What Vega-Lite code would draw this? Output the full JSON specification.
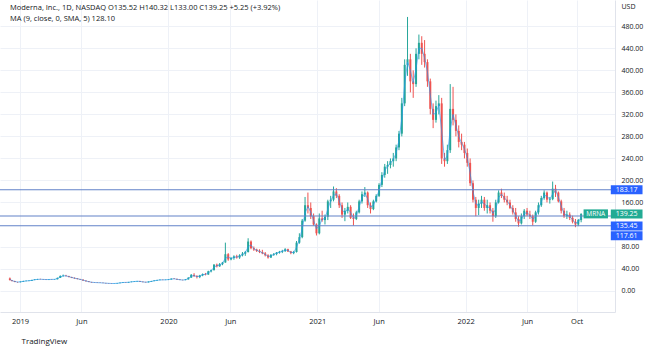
{
  "$schema": "https://vega.github.io/schema/vega-lite/v6.json",
  "width": 615,
  "height": 312,
  "padding": {"left": 0, "top": 0, "right": 41, "bottom": 40},
  "autosize": {"type": "none"},
  "background": "#ffffff",
  "config": {
    "view": {"stroke": null},
    "font": "Open Sans",
    "axis": {"labelFont": "Open Sans", "titleFont": "Open Sans", "labelOverlap": false, "labelSeparation": 0},
    "axisY": {"labelOverlap": false},
    "title": {"font": "Open Sans", "subtitleFont": "Open Sans"}
  },
  "title": {
    "text": "Moderna, Inc., 1D, NASDAQ  O135.52  H140.32  L133.00  C139.25  +5.25 (+3.92%)",
    "subtitle": "MA (9, close, 0, SMA, 5)  128.10",
    "anchor": "start",
    "frame": "group",
    "orient": "top",
    "offset": -22,
    "dx": 10,
    "fontSize": 7.5,
    "fontWeight": "normal",
    "color": "#131722",
    "subtitleFontSize": 7.5,
    "subtitleColor": "#131722",
    "subtitlePadding": 3
  },
  "datasets": {
    "px": [
      {"d":"2018-12-07","o":22,"h":23.7,"l":18.5,"c":18.8,"m":20.4},
      {"d":"2018-12-12","o":18.8,"h":19.2,"l":16.5,"c":17.4,"m":18.1},
      {"d":"2018-12-19","o":17.4,"h":17.6,"l":15.2,"c":15.6,"m":16.5},
      {"d":"2018-12-26","o":15.6,"h":15.9,"l":14.2,"c":15.3,"m":15.45},
      {"d":"2019-01-02","o":15.3,"h":16.5,"l":14.8,"c":16.2,"m":15.75},
      {"d":"2019-01-09","o":16.2,"h":17.8,"l":15.8,"c":17.2,"m":16.7},
      {"d":"2019-01-16","o":17.2,"h":18.2,"l":16.8,"c":17.6,"m":17.4},
      {"d":"2019-01-23","o":17.6,"h":18.5,"l":17.0,"c":18.0,"m":17.8},
      {"d":"2019-01-30","o":18.0,"h":19.5,"l":17.7,"c":19.2,"m":18.6},
      {"d":"2019-02-06","o":19.2,"h":20.5,"l":18.8,"c":20.0,"m":19.6},
      {"d":"2019-02-13","o":20.0,"h":21.2,"l":19.5,"c":20.6,"m":20.3},
      {"d":"2019-02-20","o":20.6,"h":21.5,"l":20.0,"c":20.4,"m":20.5},
      {"d":"2019-02-27","o":20.4,"h":21.0,"l":19.6,"c":20.1,"m":20.25},
      {"d":"2019-03-06","o":20.1,"h":20.8,"l":19.2,"c":19.8,"m":19.95},
      {"d":"2019-03-13","o":19.8,"h":20.5,"l":19.0,"c":20.3,"m":20.05},
      {"d":"2019-03-20","o":20.3,"h":21.0,"l":19.6,"c":20.2,"m":20.25},
      {"d":"2019-03-27","o":20.2,"h":21.0,"l":19.8,"c":20.5,"m":20.35},
      {"d":"2019-04-03","o":20.5,"h":23.5,"l":20.3,"c":23.0,"m":21.75},
      {"d":"2019-04-10","o":23.0,"h":27.5,"l":22.8,"c":26.5,"m":24.75},
      {"d":"2019-04-17","o":26.5,"h":29.0,"l":25.0,"c":27.0,"m":26.75},
      {"d":"2019-04-24","o":27.0,"h":28.5,"l":25.8,"c":26.2,"m":26.6},
      {"d":"2019-05-01","o":26.2,"h":26.8,"l":24.0,"c":24.5,"m":25.35},
      {"d":"2019-05-08","o":24.5,"h":25.0,"l":22.6,"c":23.0,"m":23.75},
      {"d":"2019-05-15","o":23.0,"h":23.8,"l":21.5,"c":22.0,"m":22.5},
      {"d":"2019-05-22","o":22.0,"h":22.5,"l":20.4,"c":20.8,"m":21.4},
      {"d":"2019-05-29","o":20.8,"h":21.2,"l":19.5,"c":19.8,"m":20.3},
      {"d":"2019-06-05","o":19.8,"h":20.2,"l":17.8,"c":18.0,"m":18.9},
      {"d":"2019-06-12","o":18.0,"h":18.5,"l":16.5,"c":16.8,"m":17.4},
      {"d":"2019-06-19","o":16.8,"h":17.2,"l":15.2,"c":15.5,"m":16.15},
      {"d":"2019-06-26","o":15.5,"h":15.8,"l":14.4,"c":14.7,"m":15.1},
      {"d":"2019-07-03","o":14.7,"h":15.2,"l":14.0,"c":14.5,"m":14.6},
      {"d":"2019-07-10","o":14.5,"h":15.0,"l":13.8,"c":14.2,"m":14.35},
      {"d":"2019-07-17","o":14.2,"h":14.8,"l":13.7,"c":14.0,"m":14.1},
      {"d":"2019-07-24","o":14.0,"h":14.4,"l":13.4,"c":13.6,"m":13.8},
      {"d":"2019-07-31","o":13.6,"h":14.0,"l":12.8,"c":13.2,"m":13.4},
      {"d":"2019-08-07","o":13.2,"h":13.6,"l":12.5,"c":12.9,"m":13.05},
      {"d":"2019-08-14","o":12.9,"h":13.4,"l":12.3,"c":12.7,"m":12.8},
      {"d":"2019-08-21","o":12.7,"h":13.2,"l":12.4,"c":12.9,"m":12.8},
      {"d":"2019-08-28","o":12.9,"h":13.8,"l":12.6,"c":13.5,"m":13.2},
      {"d":"2019-09-04","o":13.5,"h":14.4,"l":13.2,"c":14.2,"m":13.85},
      {"d":"2019-09-11","o":14.2,"h":15.2,"l":14.0,"c":15.0,"m":14.6},
      {"d":"2019-09-18","o":15.0,"h":15.5,"l":14.2,"c":14.6,"m":14.8},
      {"d":"2019-09-25","o":14.6,"h":15.8,"l":14.3,"c":15.5,"m":15.05},
      {"d":"2019-10-02","o":15.5,"h":16.4,"l":15.0,"c":16.0,"m":15.75},
      {"d":"2019-10-09","o":16.0,"h":17.0,"l":15.6,"c":16.6,"m":16.3},
      {"d":"2019-10-16","o":16.6,"h":17.5,"l":16.0,"c":17.2,"m":16.9},
      {"d":"2019-10-23","o":17.2,"h":17.6,"l":15.8,"c":16.0,"m":16.6},
      {"d":"2019-10-30","o":16.0,"h":16.4,"l":15.0,"c":15.4,"m":15.7},
      {"d":"2019-11-06","o":15.4,"h":16.0,"l":14.6,"c":15.0,"m":15.2},
      {"d":"2019-11-13","o":15.0,"h":16.5,"l":14.8,"c":16.2,"m":15.6},
      {"d":"2019-11-20","o":16.2,"h":17.5,"l":16.0,"c":17.2,"m":16.7},
      {"d":"2019-11-27","o":17.2,"h":18.5,"l":17.0,"c":18.2,"m":17.7},
      {"d":"2019-12-04","o":18.2,"h":19.5,"l":17.8,"c":19.0,"m":18.6},
      {"d":"2019-12-11","o":19.0,"h":20.2,"l":18.6,"c":19.5,"m":19.25},
      {"d":"2019-12-18","o":19.5,"h":20.0,"l":18.8,"c":19.2,"m":19.35},
      {"d":"2019-12-25","o":19.2,"h":19.9,"l":18.9,"c":19.6,"m":19.4},
      {"d":"2020-01-01","o":19.6,"h":20.5,"l":19.0,"c":20.2,"m":19.9},
      {"d":"2020-01-08","o":20.2,"h":22.0,"l":19.8,"c":21.5,"m":20.85},
      {"d":"2020-01-15","o":21.5,"h":22.5,"l":20.8,"c":21.0,"m":21.25},
      {"d":"2020-01-22","o":21.0,"h":21.8,"l":19.6,"c":20.0,"m":20.5},
      {"d":"2020-01-29","o":20.0,"h":20.5,"l":18.9,"c":19.2,"m":19.6},
      {"d":"2020-02-05","o":19.2,"h":19.8,"l":18.5,"c":19.0,"m":19.1},
      {"d":"2020-02-12","o":19.0,"h":20.5,"l":18.8,"c":20.2,"m":19.6},
      {"d":"2020-02-19","o":20.2,"h":24.0,"l":20.0,"c":23.5,"m":21.85},
      {"d":"2020-02-26","o":23.5,"h":30.0,"l":23.0,"c":28.5,"m":26.0},
      {"d":"2020-03-04","o":28.5,"h":31.5,"l":25.0,"c":26.0,"m":27.25},
      {"d":"2020-03-11","o":26.0,"h":28.0,"l":22.0,"c":24.5,"m":25.25},
      {"d":"2020-03-18","o":24.5,"h":28.5,"l":22.5,"c":27.5,"m":26.0},
      {"d":"2020-03-25","o":27.5,"h":31.0,"l":26.0,"c":30.0,"m":28.75},
      {"d":"2020-04-01","o":30.0,"h":32.0,"l":27.5,"c":29.0,"m":29.5},
      {"d":"2020-04-08","o":29.0,"h":36.0,"l":28.5,"c":35.0,"m":32.0},
      {"d":"2020-04-15","o":35.0,"h":38.0,"l":33.0,"c":37.0,"m":36.0},
      {"d":"2020-04-22","o":37.0,"h":48.0,"l":36.5,"c":47.0,"m":42.0},
      {"d":"2020-04-29","o":47.0,"h":49.0,"l":42.0,"c":44.0,"m":45.5},
      {"d":"2020-05-06","o":44.0,"h":50.0,"l":43.0,"c":48.0,"m":46.0},
      {"d":"2020-05-13","o":48.0,"h":52.0,"l":46.0,"c":51.0,"m":49.5},
      {"d":"2020-05-20","o":51.0,"h":87.0,"l":50.5,"c":66.0,"m":58.5},
      {"d":"2020-05-27","o":66.0,"h":68.0,"l":54.0,"c":56.5,"m":61.25},
      {"d":"2020-06-03","o":56.5,"h":61.0,"l":55.0,"c":59.0,"m":57.75},
      {"d":"2020-06-10","o":59.0,"h":64.0,"l":56.0,"c":62.0,"m":60.5},
      {"d":"2020-06-17","o":62.0,"h":65.0,"l":58.0,"c":60.0,"m":61.0},
      {"d":"2020-06-24","o":60.0,"h":66.0,"l":57.5,"c":64.0,"m":62.0},
      {"d":"2020-07-01","o":64.0,"h":70.0,"l":62.0,"c":67.0,"m":65.5},
      {"d":"2020-07-08","o":67.0,"h":72.0,"l":63.0,"c":70.0,"m":68.5},
      {"d":"2020-07-15","o":70.0,"h":95.0,"l":69.0,"c":89.0,"m":79.5},
      {"d":"2020-07-22","o":89.0,"h":91.0,"l":75.0,"c":77.0,"m":83.0},
      {"d":"2020-07-29","o":77.0,"h":80.0,"l":72.0,"c":74.5,"m":75.75},
      {"d":"2020-08-05","o":74.5,"h":76.0,"l":70.0,"c":72.0,"m":73.25},
      {"d":"2020-08-12","o":72.0,"h":75.0,"l":68.0,"c":70.0,"m":71.0},
      {"d":"2020-08-19","o":70.0,"h":74.0,"l":66.0,"c":67.5,"m":68.75},
      {"d":"2020-08-26","o":67.5,"h":70.0,"l":62.0,"c":64.0,"m":65.75},
      {"d":"2020-09-02","o":64.0,"h":66.0,"l":58.0,"c":60.0,"m":62.0},
      {"d":"2020-09-09","o":60.0,"h":66.0,"l":59.0,"c":65.0,"m":62.5},
      {"d":"2020-09-16","o":65.0,"h":68.0,"l":63.0,"c":66.5,"m":65.75},
      {"d":"2020-09-23","o":66.5,"h":70.0,"l":64.0,"c":69.0,"m":67.75},
      {"d":"2020-09-30","o":69.0,"h":72.0,"l":67.0,"c":70.5,"m":69.75},
      {"d":"2020-10-07","o":70.5,"h":74.0,"l":68.0,"c":72.0,"m":71.25},
      {"d":"2020-10-14","o":72.0,"h":77.0,"l":70.0,"c":75.0,"m":73.5},
      {"d":"2020-10-21","o":75.0,"h":76.0,"l":70.0,"c":71.0,"m":73.0},
      {"d":"2020-10-28","o":71.0,"h":72.0,"l":66.0,"c":68.0,"m":69.5},
      {"d":"2020-11-04","o":68.0,"h":72.0,"l":66.0,"c":70.0,"m":69.0},
      {"d":"2020-11-11","o":70.0,"h":90.0,"l":69.0,"c":87.0,"m":78.5},
      {"d":"2020-11-18","o":87.0,"h":104.0,"l":85.0,"c":97.0,"m":92.0},
      {"d":"2020-11-25","o":97.0,"h":130.0,"l":95.0,"c":127.0,"m":112.0},
      {"d":"2020-12-02","o":127.0,"h":170.0,"l":125.0,"c":155.0,"m":141.0},
      {"d":"2020-12-09","o":155.0,"h":178.0,"l":140.0,"c":150.0,"m":152.5},
      {"d":"2020-12-16","o":150.0,"h":160.0,"l":130.0,"c":135.0,"m":142.5},
      {"d":"2020-12-23","o":135.0,"h":140.0,"l":118.0,"c":120.0,"m":127.5},
      {"d":"2020-12-30","o":120.0,"h":122.0,"l":100.0,"c":104.0,"m":112.0},
      {"d":"2021-01-06","o":104,"h":140,"l":102,"c":131,"m":117.5},
      {"d":"2021-01-13","o":131,"h":145,"l":125,"c":128,"m":129.5},
      {"d":"2021-01-20","o":128,"h":138,"l":120,"c":134,"m":131},
      {"d":"2021-01-27","o":134,"h":165,"l":128,"c":162,"m":148},
      {"d":"2021-02-03","o":162,"h":172,"l":150,"c":165,"m":163.5},
      {"d":"2021-02-10","o":165,"h":189,"l":162,"c":180,"m":172.5},
      {"d":"2021-02-17","o":180,"h":186,"l":168,"c":172,"m":176},
      {"d":"2021-02-24","o":172,"h":175,"l":150,"c":155,"m":163.5},
      {"d":"2021-03-03","o":155,"h":160,"l":132,"c":138,"m":146.5},
      {"d":"2021-03-10","o":138,"h":150,"l":126,"c":145,"m":141.5},
      {"d":"2021-03-17","o":145,"h":160,"l":140,"c":152,"m":148.5},
      {"d":"2021-03-24","o":152,"h":155,"l":130,"c":132,"m":142},
      {"d":"2021-03-31","o":132,"h":140,"l":118,"c":130,"m":131},
      {"d":"2021-04-07","o":130,"h":145,"l":128,"c":142,"m":136},
      {"d":"2021-04-14","o":142,"h":165,"l":140,"c":162,"m":152},
      {"d":"2021-04-21","o":162,"h":180,"l":158,"c":175,"m":168.5},
      {"d":"2021-04-28","o":175,"h":188,"l":170,"c":178,"m":176.5},
      {"d":"2021-05-05","o":178,"h":180,"l":150,"c":155,"m":166.5},
      {"d":"2021-05-12","o":155,"h":160,"l":140,"c":148,"m":151.5},
      {"d":"2021-05-19","o":148,"h":165,"l":146,"c":162,"m":155},
      {"d":"2021-05-26","o":162,"h":175,"l":160,"c":172,"m":167},
      {"d":"2021-06-02","o":172,"h":195,"l":170,"c":192,"m":182},
      {"d":"2021-06-09","o":192,"h":215,"l":188,"c":210,"m":201},
      {"d":"2021-06-16","o":210,"h":230,"l":205,"c":225,"m":217.5},
      {"d":"2021-06-23","o":225,"h":235,"l":212,"c":228,"m":226.5},
      {"d":"2021-06-30","o":228,"h":240,"l":222,"c":235,"m":231.5},
      {"d":"2021-07-07","o":235,"h":250,"l":225,"c":240,"m":237.5},
      {"d":"2021-07-14","o":240,"h":265,"l":235,"c":260,"m":250},
      {"d":"2021-07-21","o":260,"h":290,"l":255,"c":285,"m":272.5},
      {"d":"2021-07-28","o":285,"h":350,"l":280,"c":340,"m":312.5},
      {"d":"2021-08-04","o":340,"h":420,"l":335,"c":410,"m":375},
      {"d":"2021-08-11","o":410,"h":497,"l":390,"c":420,"m":415},
      {"d":"2021-08-18","o":420,"h":430,"l":360,"c":380,"m":400},
      {"d":"2021-08-25","o":380,"h":400,"l":350,"c":375,"m":377.5},
      {"d":"2021-09-01","o":375,"h":440,"l":370,"c":430,"m":402.5},
      {"d":"2021-09-08","o":430,"h":465,"l":420,"c":450,"m":440},
      {"d":"2021-09-15","o":450,"h":462,"l":410,"c":430,"m":440},
      {"d":"2021-09-22","o":430,"h":455,"l":405,"c":415,"m":422.5},
      {"d":"2021-09-29","o":415,"h":420,"l":370,"c":380,"m":397.5},
      {"d":"2021-10-06","o":380,"h":385,"l":320,"c":330,"m":355},
      {"d":"2021-10-13","o":330,"h":340,"l":295,"c":310,"m":320},
      {"d":"2021-10-20","o":310,"h":345,"l":305,"c":335,"m":322.5},
      {"d":"2021-10-27","o":335,"h":355,"l":320,"c":340,"m":337.5},
      {"d":"2021-11-03","o":340,"h":350,"l":230,"c":240,"m":290},
      {"d":"2021-11-10","o":240,"h":250,"l":225,"c":235,"m":237.5},
      {"d":"2021-11-17","o":235,"h":265,"l":230,"c":255,"m":245},
      {"d":"2021-11-24","o":255,"h":375,"l":250,"c":330,"m":292.5},
      {"d":"2021-12-01","o":330,"h":370,"l":300,"c":310,"m":320},
      {"d":"2021-12-08","o":310,"h":320,"l":280,"c":290,"m":300},
      {"d":"2021-12-15","o":290,"h":300,"l":260,"c":270,"m":280},
      {"d":"2021-12-22","o":270,"h":285,"l":255,"c":265,"m":267.5},
      {"d":"2021-12-29","o":265,"h":270,"l":240,"c":250,"m":257.5},
      {"d":"2022-01-05","o":250,"h":258,"l":225,"c":232,"m":241},
      {"d":"2022-01-12","o":232,"h":240,"l":190,"c":195,"m":213.5},
      {"d":"2022-01-19","o":195,"h":200,"l":160,"c":165,"m":180},
      {"d":"2022-01-26","o":165,"h":170,"l":135,"c":150,"m":157.5},
      {"d":"2022-02-02","o":150,"h":165,"l":137,"c":158,"m":154},
      {"d":"2022-02-09","o":158,"h":172,"l":150,"c":165,"m":161.5},
      {"d":"2022-02-16","o":165,"h":170,"l":145,"c":150,"m":157.5},
      {"d":"2022-02-23","o":150,"h":165,"l":140,"c":155,"m":152.5},
      {"d":"2022-03-02","o":155,"h":160,"l":140,"c":145,"m":150},
      {"d":"2022-03-09","o":145,"h":150,"l":125,"c":135,"m":140},
      {"d":"2022-03-16","o":135,"h":165,"l":132,"c":160,"m":147.5},
      {"d":"2022-03-23","o":160,"h":182,"l":158,"c":178,"m":169},
      {"d":"2022-03-30","o":178,"h":185,"l":168,"c":172,"m":175},
      {"d":"2022-04-06","o":172,"h":178,"l":160,"c":165,"m":168.5},
      {"d":"2022-04-13","o":165,"h":172,"l":155,"c":160,"m":162.5},
      {"d":"2022-04-20","o":160,"h":165,"l":148,"c":150,"m":155},
      {"d":"2022-04-27","o":150,"h":155,"l":138,"c":142,"m":146},
      {"d":"2022-05-04","o":142,"h":150,"l":125,"c":130,"m":136},
      {"d":"2022-05-11","o":130,"h":135,"l":116,"c":122,"m":126},
      {"d":"2022-05-18","o":122,"h":140,"l":120,"c":135,"m":128.5},
      {"d":"2022-05-25","o":135,"h":148,"l":130,"c":145,"m":140},
      {"d":"2022-06-01","o":145,"h":150,"l":135,"c":138,"m":141.5},
      {"d":"2022-06-08","o":138,"h":145,"l":130,"c":135,"m":136.5},
      {"d":"2022-06-15","o":135,"h":138,"l":118,"c":125,"m":130},
      {"d":"2022-06-22","o":125,"h":145,"l":123,"c":142,"m":133.5},
      {"d":"2022-06-29","o":142,"h":160,"l":138,"c":155,"m":148.5},
      {"d":"2022-07-06","o":155,"h":172,"l":152,"c":168,"m":161.5},
      {"d":"2022-07-13","o":168,"h":182,"l":165,"c":178,"m":173},
      {"d":"2022-07-20","o":178,"h":180,"l":160,"c":165,"m":171.5},
      {"d":"2022-07-27","o":165,"h":170,"l":158,"c":166,"m":165.5},
      {"d":"2022-08-03","o":166,"h":198,"l":164,"c":185,"m":175.5},
      {"d":"2022-08-10","o":185,"h":192,"l":170,"c":178,"m":181.5},
      {"d":"2022-08-17","o":178,"h":180,"l":160,"c":162,"m":170},
      {"d":"2022-08-24","o":162,"h":165,"l":140,"c":145,"m":153.5},
      {"d":"2022-08-31","o":145,"h":150,"l":132,"c":135,"m":140},
      {"d":"2022-09-07","o":135,"h":145,"l":130,"c":138,"m":136.5},
      {"d":"2022-09-14","o":138,"h":142,"l":128,"c":132,"m":135},
      {"d":"2022-09-21","o":132,"h":136,"l":122,"c":125,"m":128.5},
      {"d":"2022-09-28","o":125,"h":130,"l":115,"c":120,"m":122.5},
      {"d":"2022-10-05","o":120,"h":130,"l":117,"c":128,"m":124},
      {"d":"2022-10-12","o":128,"h":140.32,"l":124,"c":139.25,"m":133.6}
    ],
    "lv": [{"p": 183.17}, {"p": 135.45}, {"p": 117.61}],
    "lab": [
      {"p": 183.17, "t": "183.17", "g": "a"},
      {"p": 139.25, "t": "139.25", "g": "b"},
      {"p": 135.45, "t": "135.45", "g": "c"},
      {"p": 117.61, "t": "117.61", "g": "c"}
    ]
  },
  "layer": [
    {
      "data": {"name": "px"},
      "mark": {"type": "rule", "strokeWidth": 1},
      "encoding": {
        "x": {
          "field": "d", "type": "temporal",
          "scale": {"type": "utc", "domain": [{"year": 2018, "month": 11, "date": 25, "utc": true}, {"year": 2022, "month": 12, "date": 22, "utc": true}]},
          "axis": {
            "values": [
              {"year": 2019, "month": 1, "date": 1, "utc": true},
              {"year": 2019, "month": 6, "date": 1, "utc": true},
              {"year": 2020, "month": 1, "date": 1, "utc": true},
              {"year": 2020, "month": 6, "date": 1, "utc": true},
              {"year": 2021, "month": 1, "date": 1, "utc": true},
              {"year": 2021, "month": 6, "date": 1, "utc": true},
              {"year": 2022, "month": 1, "date": 1, "utc": true},
              {"year": 2022, "month": 6, "date": 1, "utc": true},
              {"year": 2022, "month": 10, "date": 1, "utc": true}
            ],
            "tickCount": 12,
            "labelExpr": "utcFormat(datum.value, '%m') == '01' ? utcFormat(datum.value, '%Y') : utcFormat(datum.value, '%b')",
            "grid": true, "gridColor": "#eef1f7", "gridWidth": 1,
            "ticks": false, "domain": true, "domainColor": "#e0e3eb",
            "labelPadding": 5, "labelFontSize": 7.5, "labelColor": "#131722",
            "labelFlush": false, "labelOverlap": false,
            "title": "TradingView", "titleAnchor": "start", "titleAlign": "left",
            "titleX": 21, "titleY": 29, "titleBaseline": "middle",
            "titleFontSize": 8, "titleFontWeight": "normal", "titleColor": "#131722"
          }
        },
        "y": {
          "field": "l", "type": "quantitative",
          "scale": {"domain": [-29.9, 518.7], "nice": false, "zero": false},
          "axis": {
            "orient": "right",
            "values": [0, 40, 80, 160, 200, 240, 280, 320, 360, 400, 440, 480],
            "tickCount": 13,
            "format": ".2f",
            "grid": true, "gridColor": "#eef1f7", "gridWidth": 1,
            "ticks": false, "domain": true, "domainColor": "#e0e3eb",
            "labelPadding": 6, "labelAlign": "left", "labelFontSize": 7, "labelColor": "#131722",
            "labelOverlap": false, "labelBound": false, "labelFlush": false, "labelSeparation": 0,
            "title": "USD", "titleAngle": 0, "titleX": 6, "titleY": 6,
            "titleAlign": "left", "titleBaseline": "middle",
            "titleFontSize": 7, "titleFontWeight": "normal", "titleColor": "#131722"
          }
        },
        "y2": {"field": "h"},
        "color": {"condition": {"test": "datum.c >= datum.o", "value": "#26a69a"}, "value": "#ef5350"}
      }
    },
    {
      "data": {"name": "px"},
      "mark": {"type": "bar", "width": 2},
      "encoding": {
        "x": {"field": "d", "type": "temporal"},
        "y": {"field": "o", "type": "quantitative"},
        "y2": {"field": "c"},
        "color": {"condition": {"test": "datum.c >= datum.o", "value": "#26a69a"}, "value": "#ef5350"}
      }
    },
    {
      "data": {"name": "px"},
      "mark": {"type": "line", "color": "#2196f3", "strokeWidth": 0.9, "opacity": 0.7},
      "encoding": {
        "x": {"field": "d", "type": "temporal"},
        "y": {"field": "m", "type": "quantitative"}
      }
    },
    {
      "data": {"name": "lv"},
      "mark": {"type": "rule", "color": "#6282c8", "strokeWidth": 1.1},
      "encoding": {
        "y": {"field": "p", "type": "quantitative"}
      }
    },
    {
      "data": {"name": "lab"},
      "transform": [{"filter": "datum.g == 'a'"}],
      "mark": {"type": "bar", "orient": "horizontal", "height": 9, "color": "#2962ff"},
      "encoding": {
        "x": {"datum": {"year": 2022, "month": 12, "date": 24, "utc": true}, "type": "temporal"},
        "x2": {"datum": {"year": 2023, "month": 3, "date": 12, "utc": true}},
        "y": {"field": "p", "type": "quantitative"}
      }
    },
    {
      "data": {"name": "lab"},
      "transform": [{"filter": "datum.g == 'b'"}],
      "mark": {"type": "bar", "orient": "horizontal", "height": 9, "color": "#22ab94"},
      "encoding": {
        "x": {"datum": {"year": 2022, "month": 12, "date": 24, "utc": true}, "type": "temporal"},
        "x2": {"datum": {"year": 2023, "month": 3, "date": 12, "utc": true}},
        "y": {"field": "p", "type": "quantitative"}
      }
    },
    {
      "data": {"name": "lab"},
      "transform": [{"filter": "datum.g == 'b'"}],
      "mark": {"type": "bar", "orient": "horizontal", "height": 9, "color": "#22ab94"},
      "encoding": {
        "x": {"datum": {"year": 2022, "month": 10, "date": 18, "utc": true}, "type": "temporal"},
        "x2": {"datum": {"year": 2022, "month": 12, "date": 17, "utc": true}},
        "y": {"field": "p", "type": "quantitative"}
      }
    },
    {
      "data": {"name": "lab"},
      "transform": [{"filter": "datum.g == 'c'"}],
      "mark": {"type": "bar", "orient": "horizontal", "height": 9, "color": "#2962ff", "yOffset": 10},
      "encoding": {
        "x": {"datum": {"year": 2022, "month": 12, "date": 24, "utc": true}, "type": "temporal"},
        "x2": {"datum": {"year": 2023, "month": 3, "date": 12, "utc": true}},
        "y": {"field": "p", "type": "quantitative"}
      }
    },
    {
      "data": {"name": "lab"},
      "transform": [{"filter": "datum.g != 'c'"}],
      "mark": {"type": "text", "color": "#ffffff", "fontSize": 7, "align": "center", "baseline": "middle"},
      "encoding": {
        "x": {"datum": {"year": 2023, "month": 2, "date": 1, "utc": true}, "type": "temporal"},
        "y": {"field": "p", "type": "quantitative"},
        "text": {"field": "t"}
      }
    },
    {
      "data": {"name": "lab"},
      "transform": [{"filter": "datum.g == 'c'"}],
      "mark": {"type": "text", "color": "#ffffff", "fontSize": 7, "align": "center", "baseline": "middle", "yOffset": 10},
      "encoding": {
        "x": {"datum": {"year": 2023, "month": 2, "date": 1, "utc": true}, "type": "temporal"},
        "y": {"field": "p", "type": "quantitative"},
        "text": {"field": "t"}
      }
    },
    {
      "data": {"name": "lab"},
      "transform": [{"filter": "datum.g == 'b'"}],
      "mark": {"type": "text", "color": "#ffffff", "fontSize": 6.5, "align": "center", "baseline": "middle"},
      "encoding": {
        "x": {"datum": {"year": 2022, "month": 11, "date": 17, "utc": true}, "type": "temporal"},
        "y": {"field": "p", "type": "quantitative"},
        "text": {"value": "MRNA"}
      }
    }
  ]
}
